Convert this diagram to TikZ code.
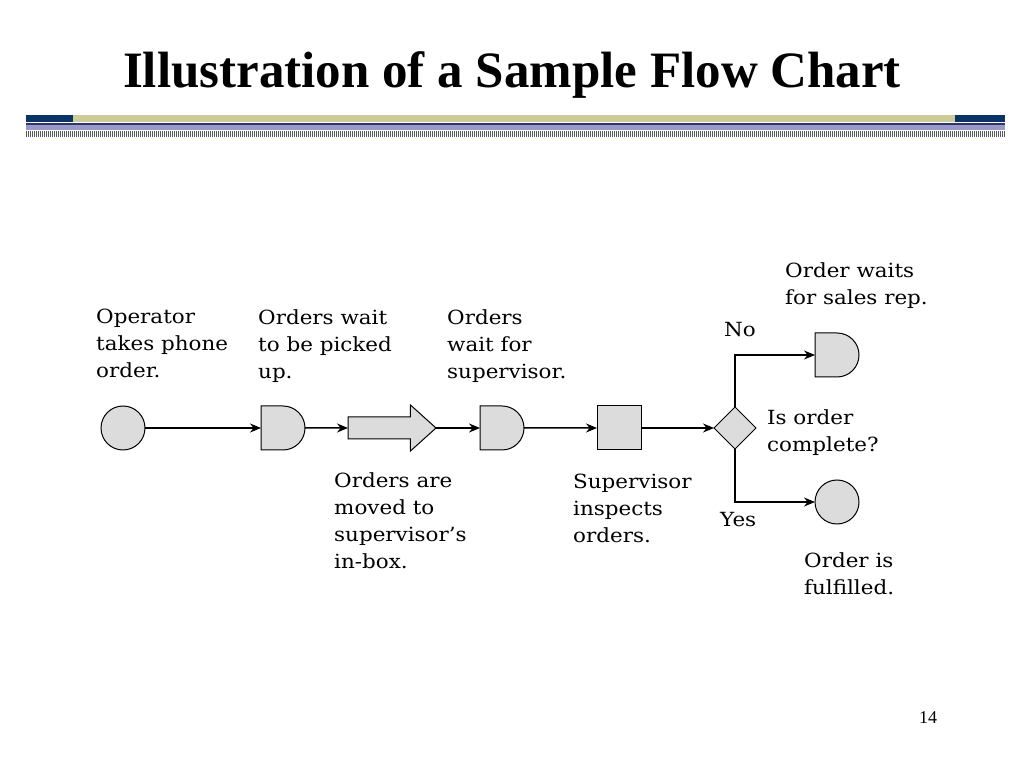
\documentclass[tikz,border=0pt]{standalone}
\usepackage{fontspec}
\setmainfont[FakeStretch=1.1]{DejaVu Serif}
\newfontfamily\titlefont{Liberation Serif}
\usetikzlibrary{positioning,shapes.geometric,shapes.misc,shapes.arrows,arrows.meta}

\definecolor{barblue}{HTML}{0A3366}
\definecolor{barkhaki}{HTML}{CCCC99}
\definecolor{barpurple}{HTML}{333366}
\definecolor{barlilac}{HTML}{9999CC}
\definecolor{shapegray}{HTML}{DCDCDC}

\begin{document}
\begin{tikzpicture}[x=1pt,y=1pt,>={Stealth[length=11pt,width=9pt]},node distance=40pt]
\tikzstyle{every node}=[font=\fontsize{19.5}{27}\selectfont,inner sep=0pt]
\tikzstyle{box}=[fill=shapegray,draw=black,line width=1pt,outer sep=0pt]
\tikzstyle{flow}=[->,line width=1.5pt]
\tikzstyle{operation}=[box,circle,minimum size=44pt]
\tikzstyle{delay}=[box,rounded rectangle,rounded rectangle west arc=none,minimum width=44pt,minimum height=44pt]
\tikzstyle{transport}=[box,single arrow,inner ysep=10.5pt,minimum height=88pt,minimum width=45pt,single arrow head extend=12pt,single arrow tip angle=84]
\tikzstyle{inspection}=[box,rectangle,minimum size=44pt]
\tikzstyle{decision}=[box,diamond,minimum size=42pt]
\tikzstyle{note}=[align=left,anchor=north west]
\useasboundingbox (0,0) rectangle (1024,768);
% header
\node[font=\titlefont\bfseries\fontsize{51}{51}\selectfont] (title) at (512,693) {Illustration of a Sample Flow Chart};
\fill[barkhaki] (26,646) rectangle (1005,653);
\fill[barblue] (26,646) rectangle (73,653);
\fill[barblue] (955,646) rectangle (1005,653);
\fill[barpurple] (26,643) rectangle (1005,645);
\fill[barlilac] (26,638) rectangle (1005,643);
\draw[line width=6pt,gray!70!black,dash pattern=on 1.2pt off 0.8pt] (26,634) -- (1005,634);
% flow
\node[operation] (take) at (123,340) {};
\node[delay] (wait1) [right=116pt of take] {};
\node[transport] (move) [right=43pt of wait1] {};
\node[delay] (wait2) [right=44pt of move] {};
\node[inspection] (inspect) [right=73pt of wait2] {};
\node[decision] (check) [right=73pt of inspect] {};
\node[delay] (wait3) [right=59pt of check,yshift=73pt] {};
\node[operation] (done) [right=59pt of check,yshift=-74pt] {};
\draw[flow] (take) -- (wait1);
\draw[flow] (wait1) -- (move);
\draw[flow] (move) -- (wait2);
\draw[flow] (wait2) -- (inspect);
\draw[flow] (inspect) -- (check);
\draw[flow] (check) |- (wait3);
\draw[flow] (check) |- (done);
% labels
\node[note] (ltake) at (96,459) {Operator\\takes phone\\order.};
\node[note] (lwait1) at (258,459) {Orders wait\\to be picked\\up.};
\node[note] (lwait2) at (447,459) {Orders\\wait for\\supervisor.};
\node[note] (lmove) at (334,296) {Orders are\\moved to\\supervisor’s\\in-box.};
\node[note] (linspect) at (573,294) {Supervisor\\inspects\\orders.};
\node[note] (lno) at (724,446) {No};
\node[note] (lwait3) at (785,506) {Order waits\\for sales rep.};
\node[note] (lcheck) at (767,359) {Is order\\complete?};
\node[note] (lyes) at (720,256) {Yes};
\node[note] (ldone) at (804,216) {Order is\\fulfilled.};
\node[font=\titlefont\fontsize{18}{18}\selectfont] (page) at (928,50) {14};
\end{tikzpicture}
\end{document}
